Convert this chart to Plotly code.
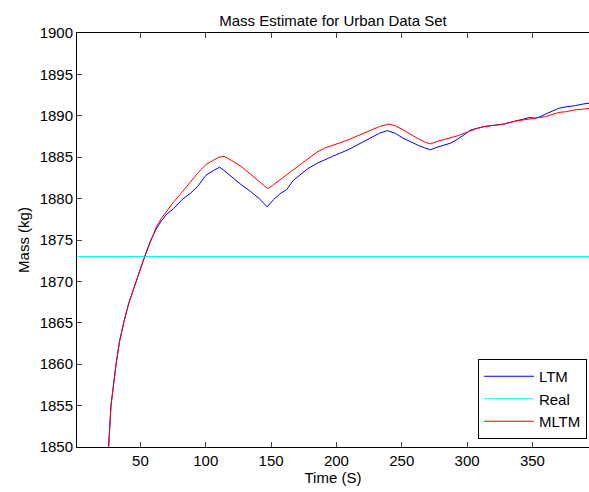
import plotly.graph_objects as go

# Early shared segment (both estimators coincide)
t_early = [24, 25.7, 27.5, 29.5, 31.4, 34, 37.2, 41, 44, 47, 50, 53.3, 58]
m_early = [1848.0, 1850.0, 1855.0, 1857.8, 1860.0, 1862.7, 1865.0, 1867.3, 1868.8,
           1870.0, 1871.5, 1873.0, 1875.0]

t_ltm = [62, 66, 70, 75.5, 82, 88, 94, 100, 106, 110.7, 114, 120, 127, 134, 141, 147,
         152, 157, 162, 167, 172, 178, 185, 191, 197, 203, 209, 215, 221, 227, 233, 239,
         245, 251, 257, 263, 268, 272, 277, 282, 287.5, 293, 298, 303, 308, 313, 318, 323,
         328, 333, 338, 343, 348, 352, 356, 360, 364, 370, 376, 382, 388, 394, 400]
m_ltm = [1876.3, 1877.3, 1878.1, 1878.8, 1879.9, 1880.6, 1881.5, 1882.8, 1883.4, 1883.8,
         1883.4, 1882.6, 1881.7, 1880.9, 1880.0, 1879.0, 1879.9, 1880.6, 1881.1, 1882.2,
         1882.8, 1883.6, 1884.25, 1884.7, 1885.1, 1885.5, 1885.9, 1886.4, 1886.9, 1887.4,
         1887.9, 1888.2, 1887.9, 1887.3, 1886.8, 1886.4, 1886.1, 1885.9, 1886.2, 1886.4,
         1886.7, 1887.2, 1887.8, 1888.3, 1888.5, 1888.7, 1888.8, 1888.9, 1889.0, 1889.2,
         1889.4, 1889.6, 1889.8, 1889.7, 1889.9, 1890.2, 1890.5, 1890.9, 1891.1, 1891.2,
         1891.4, 1891.6, 1891.7]

t_mltm = [62, 66, 70, 75.5, 82, 88, 94, 100, 106, 110, 114, 120, 127, 134, 141, 147.5,
          152, 157, 162, 167, 172, 178, 185, 191, 197, 203, 209, 215, 221, 227, 233, 240,
          245, 251, 257, 263, 268, 272, 277, 282, 287.5, 293, 298, 303, 308, 313, 318, 323,
          328, 333, 338, 343, 348, 352, 356, 360, 364, 370, 376, 382, 388, 394, 400]
m_mltm = [1876.5, 1877.6, 1878.5, 1879.6, 1880.8, 1882.0, 1883.1, 1884.1, 1884.7, 1885.0,
          1885.1, 1884.6, 1883.9, 1883.0, 1882.1, 1881.2, 1881.7, 1882.3, 1882.8, 1883.5,
          1884.1, 1884.8, 1885.6, 1886.1, 1886.4, 1886.75, 1887.1, 1887.5, 1887.9, 1888.3,
          1888.7, 1889.0, 1888.8, 1888.3, 1887.7, 1887.2, 1886.8, 1886.6, 1886.9, 1887.1,
          1887.3, 1887.6, 1887.9, 1888.2, 1888.5, 1888.7, 1888.8, 1888.9, 1889.0, 1889.2,
          1889.4, 1889.5, 1889.6, 1889.7, 1889.8, 1889.9, 1890.1, 1890.4, 1890.5, 1890.7,
          1890.8, 1890.9, 1891.0]

real_t = [0, 400]
real_mass = [1873, 1873]

x_ticks = [50, 100, 150, 200, 250, 300, 350]
y_ticks = [1850, 1855, 1860, 1865, 1870, 1875, 1880, 1885, 1890, 1895, 1900]

font = dict(family="Liberation Sans, Arial, sans-serif", size=15, color="black")

fig = go.Figure()
fig.add_trace(go.Scatter(x=t_early + t_ltm, y=m_early + m_ltm, mode="lines", name="LTM",
                         line=dict(color="#0000FF", width=1)))
fig.add_trace(go.Scatter(x=real_t, y=real_mass, mode="lines", name="Real",
                         line=dict(color="#00FFFF", width=1)))
fig.add_trace(go.Scatter(x=t_early + t_mltm, y=m_early + m_mltm, mode="lines", name="MLTM",
                         line=dict(color="#FF0000", width=1)))

fig.update_layout(
    width=589, height=492,
    margin=dict(l=77, r=0, t=33, b=45),
    paper_bgcolor="white", plot_bgcolor="white",
    font=font,
    title=dict(text="Mass Estimate for Urban Data Set", x=0.5, xref="paper",
               y=1 - 21 / 492, yref="container", xanchor="center", yanchor="middle",
               font=dict(size=15)),
    xaxis=dict(range=[1.5, 393.3], tickvals=x_ticks, ticks="inside", ticklen=5,
               tickfont=dict(size=15),
               showline=True, linecolor="black", linewidth=1, mirror="ticks",
               showgrid=False, zeroline=False,
               title=dict(text="Time (S)", standoff=3, font=dict(size=15))),
    yaxis=dict(range=[1850, 1900], tickvals=y_ticks, ticks="inside", ticklen=5,
               tickfont=dict(size=15),
               showline=True, linecolor="black", linewidth=1,
               showgrid=False, zeroline=False,
               title=dict(text="Mass (kg)", standoff=6, font=dict(size=15))),
    legend=dict(x=0.783, xanchor="left", y=0.0193, yanchor="bottom",
                bordercolor="black", borderwidth=1, bgcolor="white",
                itemwidth=50, font=dict(size=15)),
    showlegend=True,
)

fig.write_html("out.html")
